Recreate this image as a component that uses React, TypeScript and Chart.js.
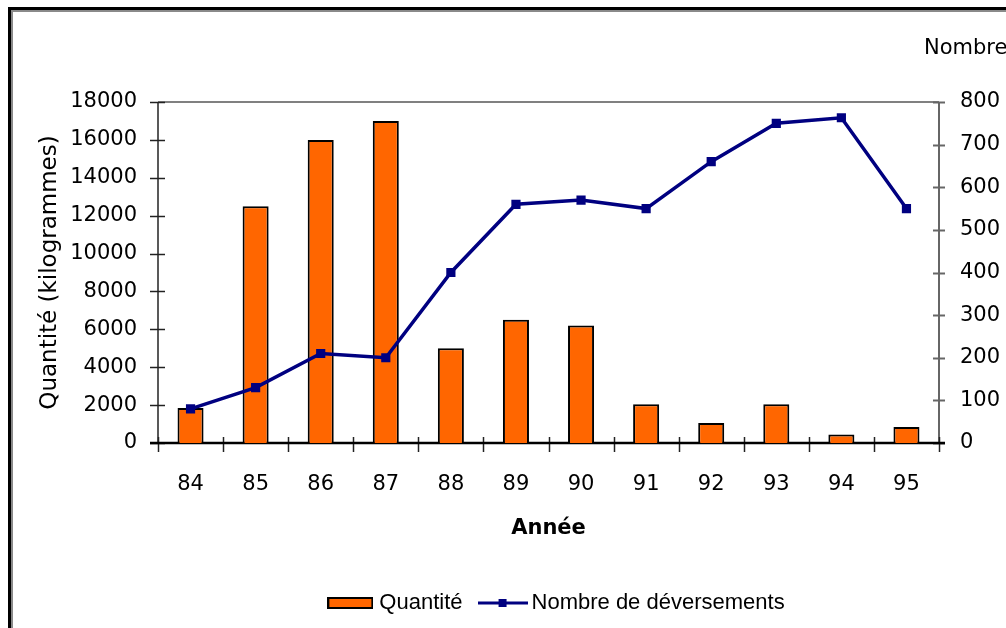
import React, { useEffect, useRef } from 'react';
import { Chart, registerables } from 'chart.js';

Chart.register(...registerables);

const years = ['84', '85', '86', '87', '88', '89', '90', '91', '92', '93', '94', '95'];
const quantite = [1850, 12500, 16000, 17000, 5000, 6500, 6200, 2050, 1050, 2050, 450, 850];
const deversements = [80, 130, 210, 200, 400, 560, 570, 550, 660, 750, 763, 550];

const leftAxis = { min: 0, max: 18000, step: 2000 };
const rightAxis = { min: 0, max: 800, step: 100 };

const seriesNames = ['Quantité', 'Nombre de déversements'];
const leftTitle = 'Quantité (kilogrammes)';
const rightTitle = 'Nombre de déversements';
const xTitle = 'Année';

const ORANGE = '#FF6600';
const NAVY = '#000080';
const TICK_FONT = { family: 'DejaVu Sans', size: 21 };

function makeBarIcon() {
  const c = document.createElement('canvas');
  c.width = 46;
  c.height = 12;
  const g = c.getContext('2d')!;
  g.fillStyle = '#000';
  g.fillRect(0, 0, 46, 12);
  g.fillStyle = ORANGE;
  g.fillRect(2, 2, 42, 8);
  return c;
}

function makeLineIcon() {
  const c = document.createElement('canvas');
  c.width = 50;
  c.height = 12;
  const g = c.getContext('2d')!;
  g.strokeStyle = NAVY;
  g.lineWidth = 3;
  g.beginPath();
  g.moveTo(0, 6);
  g.lineTo(50, 6);
  g.stroke();
  g.fillStyle = NAVY;
  g.fillRect(21, 2, 8, 8);
  return c;
}

const line = (ctx: CanvasRenderingContext2D, x1: number, y1: number, x2: number, y2: number) => {
  ctx.beginPath();
  ctx.moveTo(x1, y1);
  ctx.lineTo(x2, y2);
  ctx.stroke();
};

const axesPlugin = {
  id: 'axesFrame',
  afterLayout(chart: any) {
    if (chart.legend) {
      chart.legend.left += 10;
      chart.legend.right += 10;
    }
  },
  beforeDatasetsDraw(chart: any) {
    const { ctx, chartArea, scales } = chart;
    const { left, right, top, bottom } = chartArea;
    ctx.save();
    // top border of plot
    ctx.strokeStyle = '#808080';
    ctx.lineWidth = 2;
    line(ctx, left, top, right, top);
    // right axis
    ctx.strokeStyle = '#666';
    ctx.lineWidth = 2;
    line(ctx, right, top, right, bottom);
    scales.y1.ticks.forEach((t: any) => {
      const py = Math.round(scales.y1.getPixelForValue(t.value)) + 0.5;
      line(ctx, right - 6, py, right + 6, py);
    });
    // left axis
    ctx.strokeStyle = '#222';
    ctx.lineWidth = 1.5;
    line(ctx, left, top, left, bottom);
    scales.y.ticks.forEach((t: any) => {
      const py = Math.round(scales.y.getPixelForValue(t.value)) + 0.5;
      line(ctx, left - 8, py, left + 7, py);
    });
    // x axis
    const xs = scales.x;
    const w = xs.getPixelForValue(1) - xs.getPixelForValue(0);
    ctx.strokeStyle = '#222';
    ctx.lineWidth = 1.5;
    for (let i = 0; i <= years.length; i++) {
      const px = Math.round(xs.getPixelForValue(i) - w / 2) + 0.5;
      line(ctx, px, bottom - 6, px, bottom + 9);
    }
    ctx.strokeStyle = '#000';
    ctx.lineWidth = 2.5;
    line(ctx, left - 8, bottom, right + 6, bottom);
    ctx.restore();
  },
  afterDraw(chart: any) {
    const { ctx } = chart;
    ctx.save();
    // outer frame
    ctx.fillStyle = '#000';
    ctx.fillRect(8, 7, 1006, 3);
    ctx.fillRect(8, 7, 3, 628);
    ctx.fillStyle = '#8a8a8a';
    ctx.fillRect(11, 10, 995, 2);
    ctx.fillRect(11, 10, 2, 628);
    // right axis title (cut by the edge)
    ctx.fillStyle = '#000';
    ctx.font = '21px "DejaVu Sans"';
    ctx.textAlign = 'left';
    ctx.textBaseline = 'middle';
    ctx.fillText(rightTitle, 924, 49);
    ctx.restore();
  },
};

export default function App() {
  const ref = useRef<HTMLCanvasElement>(null);

  useEffect(() => {
    if (!ref.current) return;
    const barIcon = makeBarIcon();
    const lineIcon = makeLineIcon();
    const chart = new Chart(ref.current, {
      type: 'bar',
      data: {
        labels: years,
        datasets: [
          {
            type: 'bar',
            label: seriesNames[0],
            data: quantite,
            backgroundColor: ORANGE,
            borderColor: '#000',
            borderWidth: 2,
            barPercentage: 0.4,
            categoryPercentage: 1,
            yAxisID: 'y',
            order: 2,
          } as any,
          {
            type: 'line',
            label: seriesNames[1],
            data: deversements,
            borderColor: NAVY,
            borderWidth: 3.5,
            pointStyle: 'rect',
            pointRadius: 6.5,
            pointBackgroundColor: NAVY,
            pointBorderColor: NAVY,
            pointBorderWidth: 0,
            tension: 0,
            yAxisID: 'y1',
            order: 1,
          } as any,
        ],
      },
      options: {
        responsive: false,
        animation: false,
        devicePixelRatio: 1,
        layout: { padding: { top: 102, left: 0, right: 0, bottom: 4 } },
        plugins: {
          tooltip: { enabled: false },
          legend: {
            position: 'bottom',
            fullSize: false,
            labels: {
              usePointStyle: true,
              pointStyleWidth: 36,
              padding: 22,
              color: '#000',
              font: { family: 'Liberation Sans', size: 22 },
              generateLabels: () => [
                {
                  text: seriesNames[0],
                  pointStyle: barIcon as any,
                  fillStyle: ORANGE,
                  strokeStyle: '#000',
                  lineWidth: 0,
                  hidden: false,
                  datasetIndex: 0,
                  fontColor: '#000',
                },
                {
                  text: seriesNames[1],
                  pointStyle: lineIcon as any,
                  fillStyle: NAVY,
                  strokeStyle: NAVY,
                  lineWidth: 0,
                  hidden: false,
                  datasetIndex: 1,
                  fontColor: '#000',
                },
              ],
            },
          },
        },
        scales: {
          x: {
            grid: { display: false, drawTicks: false },
            border: { display: false },
            ticks: { color: '#000', font: TICK_FONT, padding: 29, maxRotation: 0, autoSkip: false },
            title: {
              display: true,
              text: xTitle,
              color: '#000',
              font: { family: 'DejaVu Sans', size: 21, weight: 'bold' },
              padding: { top: 0, bottom: 29 },
            },
            afterFit: (s: any) => {
              s.height = 127;
            },
          },
          y: {
            position: 'left',
            min: leftAxis.min,
            max: leftAxis.max,
            grid: { display: false, drawTicks: false },
            border: { display: false },
            ticks: {
              stepSize: leftAxis.step,
              color: '#000',
              font: TICK_FONT,
              padding: 21,
              callback: (v: any) => String(v),
            },
            title: {
              display: true,
              text: leftTitle,
              color: '#000',
              font: { family: 'DejaVu Sans', size: 23 },
              padding: { top: 36, bottom: 0 },
            },
            afterFit: (s: any) => {
              s.width = 158;
            },
          },
          y1: {
            position: 'right',
            min: rightAxis.min,
            max: rightAxis.max,
            grid: { display: false, drawTicks: false },
            border: { display: false },
            ticks: {
              stepSize: rightAxis.step,
              color: '#000',
              font: TICK_FONT,
              padding: 21,
              callback: (v: any) => String(v),
            },
            afterFit: (s: any) => {
              s.width = 67;
            },
          },
        },
      } as any,
      plugins: [axesPlugin],
    });
    return () => chart.destroy();
  }, []);

  return (
    <div style={{ position: 'fixed', left: 0, top: 0, width: 1006, height: 628, background: '#fff' }}>
      <canvas ref={ref} width={1006} height={628} style={{ display: 'block' }} />
    </div>
  );
}
